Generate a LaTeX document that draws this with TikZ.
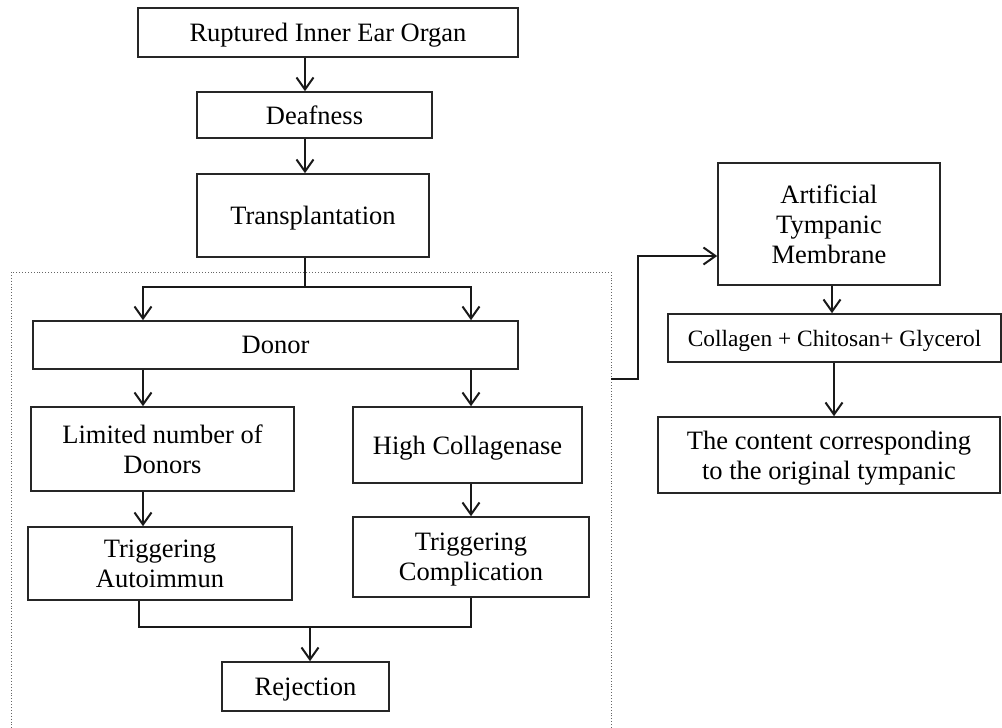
\documentclass[tikz,border=0pt]{standalone}
\usepackage{fontspec}
\setmainfont{Liberation Serif}
\usetikzlibrary{arrows.meta,calc}
\begin{document}
\begin{tikzpicture}[x=1pt,y=-1pt,
  box/.style={draw=black!85, line width=1.6pt, align=center, inner sep=0pt, text depth=0pt,
    font=\fontsize{26.5}{30}\selectfont},
  smallbox/.style={box, font=\fontsize{23.4}{28}\selectfont},
  arr/.style={draw=black!90, line width=2pt, -{Straight Barb[length=12pt,width=17pt,line width=2pt]}},
  ln/.style={draw=black!90, line width=2pt},
  dotbox/.style={draw=black!60, line width=0.9pt, dotted}]
\useasboundingbox (0,0) rectangle (1002,728);
% dotted group frame
\draw[dotbox] (11,272) rectangle (611,735);
% left column nodes
\node[box, minimum width=380pt, minimum height=49pt] (rup) at (328,32.5) {Ruptured Inner Ear Organ};
\node[box, minimum width=235pt, minimum height=46pt] (deaf) at (314.5,115) {Deafness};
\node[box, minimum width=232pt, minimum height=83pt] (trans) at (313,215.5) {Transplantation};
\node[box, minimum width=485pt, minimum height=48pt] (donor) at (275.5,345) {Donor};
\node[box, minimum width=263pt, minimum height=84pt] (lim) at (162.5,449) {Limited number of\\Donors};
\node[box, minimum width=229pt, minimum height=76pt] (high) at (467.5,445) {High Collagenase};
\node[box, minimum width=264pt, minimum height=73pt] (tauto) at (160,563.5) {Triggering\\Autoimmun};
\node[box, minimum width=236pt, minimum height=80pt] (tcomp) at (471,557) {Triggering\\Complication};
\node[box, minimum width=167pt, minimum height=49pt] (rej) at (305.5,686.5) {Rejection};
% right column nodes
\node[box, minimum width=222pt, minimum height=122pt] (atm) at (829,224) {Artificial\\Tympanic\\Membrane};
\node[smallbox, minimum width=333pt, minimum height=48pt] (coll) at (834.5,338) {Collagen + Chitosan+ Glycerol};
\node[box, minimum width=342pt, minimum height=76pt] (cont) at (829,455) {The content corresponding\\to the original tympanic};
% helper coordinates
\coordinate (xl) at (143,0);
\coordinate (xr) at (471,0);
\coordinate (split) at (305,287);
\coordinate (xa) at (305,0);
\coordinate (merge) at (310,627);
\coordinate (xml) at (139,0);
\coordinate (out) at (611,379);
\coordinate (bend) at (638,379);
\coordinate (xc) at (832,0);
\coordinate (xd) at (834,0);
\coordinate (yin) at (0,256);
% connectors
\draw[arr] (rup.south -| xa) -- (deaf.north -| xa);
\draw[arr] (deaf.south -| xa) -- (trans.north -| xa);
\draw[ln] (trans.south -| split) -- (split);
\draw[arr] (split) -| (donor.north -| xl);
\draw[arr] (split) -| (donor.north -| xr);
\draw[arr] (donor.south -| xl) -- (lim.north -| xl);
\draw[arr] (donor.south -| xr) -- (high.north -| xr);
\draw[arr] (lim.south -| xl) -- (tauto.north -| xl);
\draw[arr] (high.south -| xr) -- (tcomp.north -| xr);
\draw[ln] (tauto.south -| xml) -- (merge -| xml) -- (merge -| xr) -- (tcomp.south -| xr);
\draw[arr] (merge) -- (rej.north -| merge);
\draw[arr] (out) -- (bend) |- (atm.west |- yin);
\draw[arr] (atm.south -| xc) -- (coll.north -| xc);
\draw[arr] (coll.south -| xd) -- (cont.north -| xd);
\end{tikzpicture}
\end{document}
